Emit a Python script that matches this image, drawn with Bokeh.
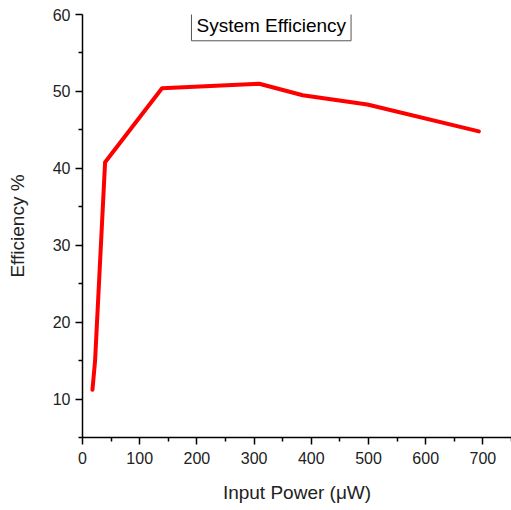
from bokeh.plotting import figure
from bokeh.models import Range1d, FixedTicker, Label
from bokeh.embed import file_html
from bokeh.resources import INLINE

# Data
input_power = [17.4, 22, 39.5, 139, 309, 385, 498, 693]
efficiency = [11.2, 15.0, 40.8, 50.4, 51.0, 49.5, 48.3, 44.8]

x_major = [0, 100, 200, 300, 400, 500, 600, 700]
x_minor = [50, 150, 250, 350, 450, 550, 650, 750]
y_major = [10, 20, 30, 40, 50, 60]
y_minor = [5, 15, 25, 35, 45, 55]

FONT = "Liberation Sans"

p = figure(width=511, height=510, output_backend="svg", toolbar_location=None,
           x_range=Range1d(0, 750), y_range=Range1d(5, 60),
           min_border_left=82, min_border_right=0, min_border_top=14, min_border_bottom=73)
p.outline_line_color = None
p.xgrid.visible = False
p.ygrid.visible = False
p.background_fill_color = "white"
p.border_fill_color = "white"

p.line(input_power, efficiency, line_color="#ff0000", line_width=4, line_join="round", line_cap="round")

for ax in (p.xaxis[0], p.yaxis[0]):
    ax.axis_line_color = "black"
    ax.axis_line_width = 1.5
    ax.major_tick_line_color = "black"
    ax.minor_tick_line_color = "black"
    ax.major_tick_line_width = 1.5
    ax.minor_tick_line_width = 1.5
    ax.major_tick_in = 0
    ax.minor_tick_in = 0
    ax.major_tick_out = 7
    ax.minor_tick_out = 4
    ax.major_label_text_font = FONT
    ax.major_label_text_font_size = "16px"
    ax.major_label_text_color = "#222222"
    ax.axis_label_text_font = FONT
    ax.axis_label_text_font_size = "19px"
    ax.axis_label_text_font_style = "normal"
    ax.axis_label_text_color = "#222222"

p.xaxis.ticker = FixedTicker(ticks=x_major, minor_ticks=x_minor)
p.yaxis.ticker = FixedTicker(ticks=y_major, minor_ticks=y_minor)
p.xaxis.axis_label = "Input Power (μW)"
p.yaxis.axis_label = "Efficiency %"
p.xaxis.major_label_standoff = 7
p.xaxis.axis_label_standoff = 15
p.yaxis.major_label_standoff = 5
p.yaxis.axis_label_standoff = 22

title = Label(x=330, y=58.6, text="System Efficiency", text_align="center", text_baseline="middle",
              text_font=FONT, text_font_size="19px", text_color="black",
              border_line_color="#555555", border_line_width=1,
              background_fill_color="white", padding=5)
p.add_layout(title)

open("out.html", "w").write(file_html(p, INLINE))
